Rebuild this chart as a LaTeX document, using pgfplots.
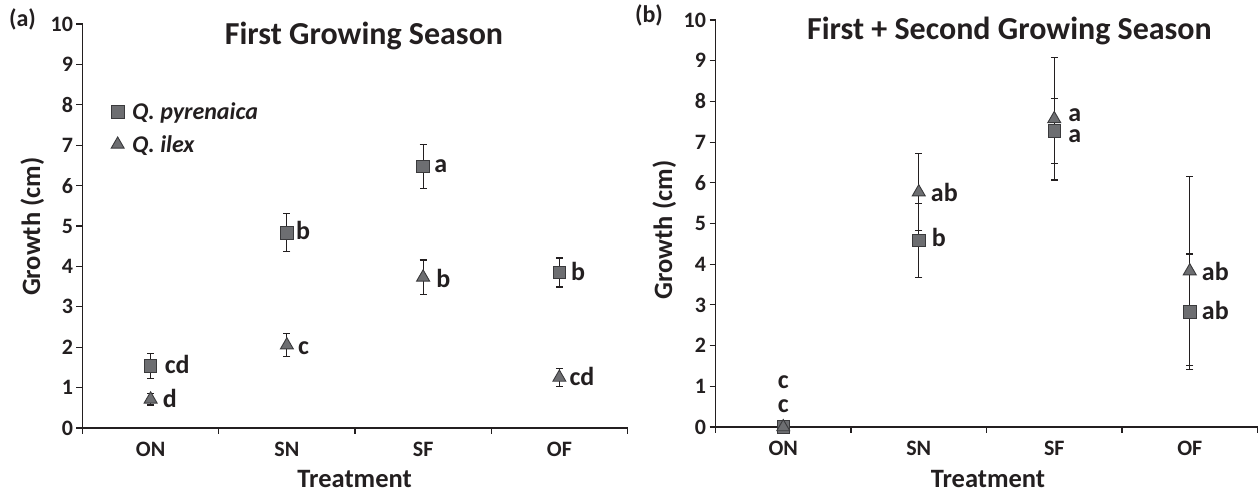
\documentclass[border=0pt]{standalone}
\usepackage{fontspec}
\setmainfont{Carlito}
\usepackage{pgfplots}
\pgfplotsset{compat=1.18}
\definecolor{txt}{HTML}{231F20}
\definecolor{mfill}{HTML}{6D6E71}
\definecolor{medge}{HTML}{3A3A3C}
\newcommand{\fs}[1]{\fontsize{#1}{#1}\selectfont\bfseries}
\tikzset{lab/.style={anchor=base west, inner sep=0pt, font=\fs{26}, text=txt}}
\pgfplotsset{
  myaxis/.style={
    scale only axis, anchor=south west,
    xmin=0.5, xmax=4.5, ymin=0, ymax=10,
    axis x line=bottom, axis y line=left,
    axis line style={-, draw=txt},
    x axis line style={line width=2.4pt},
    y axis line style={line width=1.8pt},
    xtick={0.5,1.5,2.5,3.5,4.5}, xticklabels={,,,,},
    extra x ticks={1,2,3,4}, extra x tick labels={ON,SN,SF,OF},
    extra x tick style={tick style={draw=none}},
    ytick={0,1,...,10},
    tick align=outside,
    major tick length=6pt,
    tick style={draw=txt, line width=1.1pt},
    xticklabel style={font=\fs{22}, text=txt, yshift=-4.5pt},
    yticklabel style={font=\fs{22}, text=txt},
    /pgf/number format/assume math mode=true,
    clip=false,
  },
  ebar/.style={only marks, mark=none, forget plot,
    error bars/.cd, y dir=both, y explicit,
    error bar style={draw=txt, line width=1.2pt},
    error mark options={rotate=90, mark size=3.5pt, line width=1.2pt, draw=txt}},
  sq/.style={only marks, mark=square*, mark size=6.3pt,
    mark options={fill=mfill, draw=medge, line width=0.9pt}},
  tri/.style={only marks, mark=triangle*, mark size=7.5pt,
    mark options={fill=mfill, draw=medge, line width=0.9pt}},
}
\begin{document}
\begin{tikzpicture}
\path[use as bounding box] (0,0) rectangle (1258pt,492pt);
% ---------- panel (a)
\begin{axis}[myaxis, at={(82.5pt,64pt)}, width=545pt, height=404pt,
  legend style={draw=none, fill=none, at={(axis cs:0.687,8.15)}, anchor=north west,
    font=\fontsize{24}{24}\selectfont\bfseries\itshape, text=txt, row sep=10pt,
    /tikz/every odd column/.append style={column sep=6pt}},
  legend cell align=left,
  legend image code/.code={\draw[#1] plot coordinates {(0pt,0pt)};}]
\addplot[ebar] coordinates {(1,1.54) +- (0,0.31) (2,4.83) +- (0,0.47) (3,6.47) +- (0,0.55) (4,3.85) +- (0,0.36)};
\addplot[ebar] coordinates {(1,0.71) +- (0,0.14) (2,2.05) +- (0,0.29) (3,3.73) +- (0,0.43) (4,1.25) +- (0,0.23)};
\addplot[sq] coordinates {(1,1.54) (2,4.83) (3,6.47) (4,3.85)};
\addlegendentry{Q. pyrenaica}
\addplot[tri] coordinates {(1,0.71) (2,2.05) (3,3.73) (4,1.25)};
\addlegendentry{Q. ilex}
\node[lab, xshift=14pt] at (axis cs:1,1.34) {cd};
\node[lab, xshift=12pt] at (axis cs:1,0.51) {d};
\node[lab, xshift=9pt] at (axis cs:2,4.67) {b};
\node[lab, xshift=11pt] at (axis cs:2,1.81) {c};
\node[lab, xshift=11pt] at (axis cs:3,6.32) {a};
\node[lab, xshift=13pt] at (axis cs:3,3.48) {b};
\node[lab, xshift=11.5pt] at (axis cs:4,3.65) {b};
\node[lab, xshift=10pt] at (axis cs:4,1.04) {cd};
\end{axis}
% ---------- panel (b)
\begin{axis}[myaxis, at={(715.5pt,65pt)}, width=542pt, height=407pt]
\addplot[ebar] coordinates {(1,0) +- (0,0) (2,4.585) +- (0,0.915) (3,7.28) +- (0,0.80) (4,2.83) +- (0,1.42)};
\addplot[ebar] coordinates {(1,0) +- (0,0) (2,5.77) +- (0,0.95) (3,7.57) +- (0,1.50) (4,3.83) +- (0,2.32)};
\addplot[sq] coordinates {(1,0) (2,4.585) (3,7.28) (4,2.83)};
\addplot[tri] coordinates {(1,0) (2,5.77) (3,7.57) (4,3.83)};
\node[lab, anchor=base] at (axis cs:1,0.95) {c};
\node[lab, anchor=base] at (axis cs:1,0.36) {c};
\node[lab, xshift=12pt] at (axis cs:2,5.54) {ab};
\node[lab, xshift=13pt] at (axis cs:2,4.43) {b};
\node[lab, xshift=14pt] at (axis cs:3,7.50) {a};
\node[lab, xshift=14pt] at (axis cs:3,6.99) {a};
\node[lab, xshift=12pt] at (axis cs:4,3.61) {ab};
\node[lab, xshift=12pt] at (axis cs:4,2.63) {ab};
\end{axis}
% ---------- texts
\node[anchor=base, font=\fs{24}, text=txt] at (22.5pt,465pt) {(a)};
\node[anchor=base, font=\fs{24}, text=txt] at (649pt,469pt) {(b)};
\node[anchor=base, font=\fs{32}, text=txt] at (364pt,447pt) {First Growing Season};
\node[anchor=base, font=\fs{32}, text=txt] at (1009.5pt,452pt) {First + Second Growing Season};
\node[anchor=base, font=\fs{26.5}, text=txt, inner sep=0pt] at (354.6pt,4.5pt) {Treatment};
\node[anchor=base, font=\fs{26.5}, text=txt, inner sep=0pt] at (988pt,4.5pt) {Treatment};
\node[anchor=base, rotate=90, font=\fs{26.5}, text=txt] at (40pt,265.3pt) {Growth (cm)};
\node[anchor=base, rotate=90, font=\fs{26.5}, text=txt] at (672pt,262pt) {Growth (cm)};
\end{tikzpicture}
\end{document}
